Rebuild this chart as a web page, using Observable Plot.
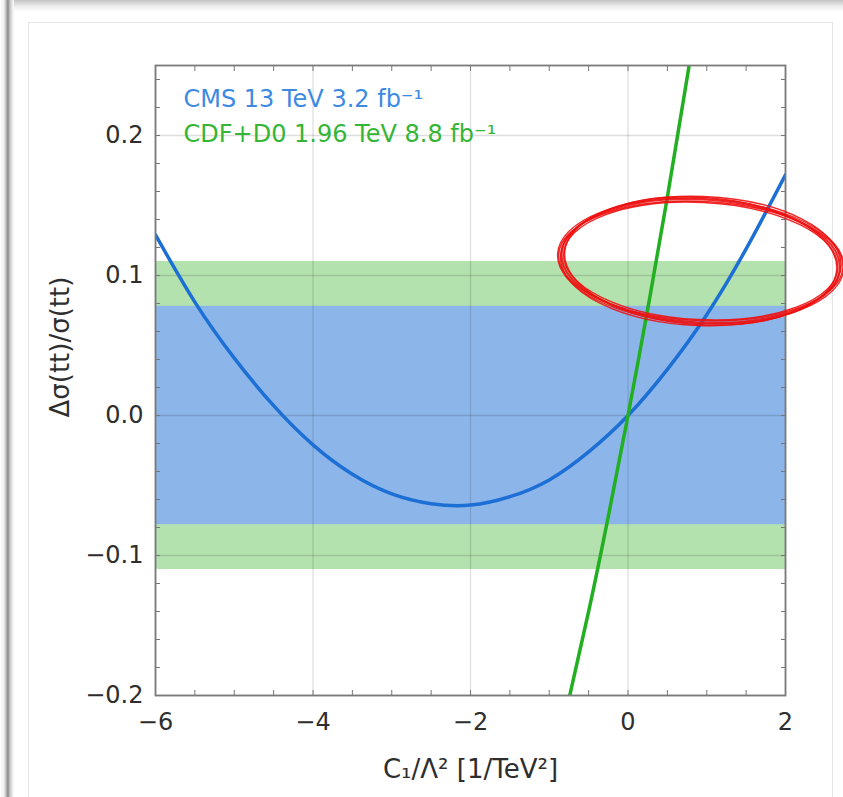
<!DOCTYPE html>
<html><head><meta charset="utf-8">
<script src="https://cdn.jsdelivr.net/npm/d3@7"></script>
<script src="https://cdn.jsdelivr.net/npm/@observablehq/plot@0.6"></script>
<style>
body{margin:0;background:#fff;width:843px;height:797px;overflow:hidden;position:relative;font-family:"DejaVu Sans",sans-serif}
#shadowTop{position:absolute;left:0;top:0;width:843px;height:12px;background:linear-gradient(#c4c4c4,#eeeeee 55%,#fff)}
#shadowLeft{position:absolute;left:0;top:0;width:14px;height:797px;background:linear-gradient(90deg,#fff 0,#f0f0f0 4px,#8a8a8a 8px,#c8c8c8 10px,#fff 14px)}
#box{position:absolute;left:28px;top:22px;width:803px;height:800px;border:1px solid #e4e4e4;background:#fff}
#chart{position:absolute;left:0;top:0}
</style></head>
<body>
<div id="shadowTop"></div><div id="shadowLeft"></div><div id="box"></div>
<div id="chart"></div>
<script>
// CMS 13 TeV curve (blue)
const cmsX = [-6, -5.5, -5, -4.5, -4, -3.5, -3, -2.5, -2, -1.5, -1, -0.5, 0, 0.5, 1, 1.5, 2];
const cmsY = [0.129, 0.081, 0.041, 0.007, -0.021, -0.042, -0.056, -0.063, -0.064, -0.058, -0.046, -0.026, 0, 0.033, 0.072, 0.119, 0.172];
// CDF+D0 1.96 TeV curve (green)
const tevX = [-0.8, -0.5, -0.25, 0, 0.25, 0.5, 0.8];
const tevY = [-0.215, -0.140, -0.072, 0, 0.076, 0.156, 0.258];
// measurement bands
const bandNames = ["CDF+D0 1.96 TeV 8.8 fb⁻¹", "CMS 13 TeV 3.2 fb⁻¹"];
const bandLo = [-0.110, -0.078];
const bandHi = [0.110, 0.078];
// ticks and labels
const xTicks = [-6, -4, -2, 0, 2];
const yTicks = [-0.2, -0.1, 0, 0.1, 0.2];
const xMinor = [-6, -5.5, -5, -4.5, -4, -3.5, -3, -2.5, -2, -1.5, -1, -0.5, 0, 0.5, 1, 1.5, 2];
const yMinor = [-0.2, -0.18, -0.16, -0.14, -0.12, -0.1, -0.08, -0.06, -0.04, -0.02, 0, 0.02, 0.04, 0.06, 0.08, 0.1, 0.12, 0.14, 0.16, 0.18, 0.2, 0.22, 0.24];
const xLabel = ["C\u2081/\u039B\u00B2 [1/TeV\u00B2]"];
const yLabel = ["\u0394\u03C3(tt)/\u03C3(tt)"];
// hand-drawn red ring annotation (center and radii in data units)
const ringX = [0.93];
const ringY = [0.110];
const ringRx = [1.77];
const ringRy = [0.044];

const cms = cmsX.map((x, i) => ({x, y: cmsY[i]}));
const tev = tevX.map((x, i) => ({x, y: tevY[i]}));
const bands = bandNames.map((n, i) => ({name: n, lo: bandLo[i], hi: bandHi[i]}));

const blue = "#1c6fd4", green = "#22b022";
const minus = s => s.replace("-", "\u2212");
const fmtY = d => minus(d.toFixed(1));
const fmtX = d => minus(String(d));
const font = '"DejaVu Sans", sans-serif';

const plot = Plot.plot({
  width: 843, height: 797,
  marginLeft: 155, marginRight: 58, marginTop: 65, marginBottom: 102,
  style: {fontFamily: font, fontSize: "24px", color: "#2e2e2e", background: "transparent", overflow: "visible"},
  x: {domain: [-6, 2]},
  y: {domain: [-0.2, 0.25]},
  marks: [
    Plot.rect([bands[0]], {y1: "lo", y2: "hi", fill: "#b3e2ae"}),
    Plot.rect([bands[1]], {y1: "lo", y2: "hi", fill: "#8cb6ea"}),
    Plot.gridX(xTicks, {stroke: "#000", strokeOpacity: 0.13, strokeWidth: 1.3}),
    Plot.gridY(yTicks, {stroke: "#000", strokeOpacity: 0.13, strokeWidth: 1.3}),
    Plot.line(cms, {x: "x", y: "y", curve: "natural", stroke: blue, strokeWidth: 3.5, clip: true}),
    Plot.line(tev, {x: "x", y: "y", curve: "natural", stroke: green, strokeWidth: 3.5, clip: true}),
    Plot.axisX(xMinor, {anchor: "bottom", tickSize: -5, tickFormat: () => "", label: null, stroke: "#777"}),
    Plot.axisX(xMinor, {anchor: "top", tickSize: -5, tickFormat: () => "", label: null, stroke: "#777"}),
    Plot.axisY(yMinor, {anchor: "left", tickSize: -5, tickFormat: () => "", label: null, stroke: "#777"}),
    Plot.axisY(yMinor, {anchor: "right", tickSize: -5, tickFormat: () => "", label: null, stroke: "#777"}),
    Plot.axisX(xTicks, {anchor: "bottom", tickSize: 0, tickPadding: 17, tickFormat: fmtX, label: null, fontSize: 24}),
    Plot.axisY(yTicks, {anchor: "left", tickSize: 0, tickPadding: 12, tickFormat: fmtY, label: null, fontSize: 24}),
    Plot.frame({stroke: "#7a7a7a", strokeWidth: 1.8}),
    Plot.text(xLabel, {frameAnchor: "bottom", lineAnchor: "middle", dy: 74, fontSize: 26, fill: "#2e2e2e"}),
    Plot.text(yLabel, {frameAnchor: "left", dx: -95, dy: 37, rotate: -90, fontSize: 26, fill: "#2e2e2e"}),
    Plot.text([bands[1].name], {frameAnchor: "top-left", lineAnchor: "middle", dx: 28, dy: 34, fill: "#3d8ae2", fontSize: 24, textAnchor: "start"}),
    Plot.text([bands[0].name], {frameAnchor: "top-left", lineAnchor: "middle", dx: 28, dy: 69, fill: "#35b535", fontSize: 24, textAnchor: "start"})
  ]
});
document.getElementById("chart").appendChild(plot);

// red hand-drawn ring, positioned through the plot's scales
const sx = plot.scale("x"), sy = plot.scale("y");
const svg = d3.select(plot);
const g = svg.append("g").attr("fill", "none").attr("stroke", "#ee1111");
ringX.forEach((rxv, i) => {
  const cx = sx.apply(rxv), cy = sy.apply(ringY[i]);
  const rx = sx.apply(rxv + ringRx[i]) - cx;
  const ry = cy - sy.apply(ringY[i] + ringRy[i]);
  const variants = [[0, 0, 3, 2.2], [3, -2, 2.5, 1.6], [-3, 2, 3.6, 1.6], [1, 3, 2.0, 1.4], [-2, -3, 3.0, 1.4], [4, 1, 2.8, 1.2]];
  variants.forEach(([drx, dry, rot, w]) => {
    g.append("ellipse").attr("cx", cx).attr("cy", cy).attr("rx", rx + drx).attr("ry", ry + dry)
      .attr("transform", `rotate(${rot},${cx},${cy})`).attr("stroke-width", w).attr("stroke-opacity", 0.9);
  });
});
</script>
</body></html>
